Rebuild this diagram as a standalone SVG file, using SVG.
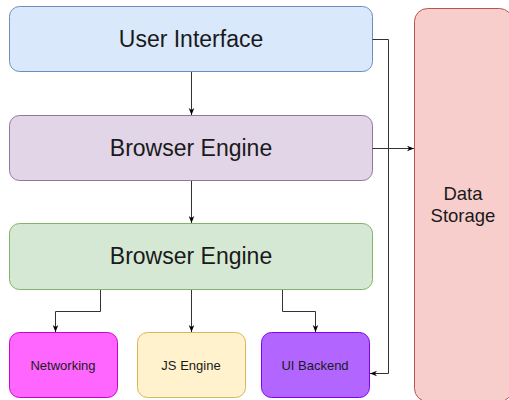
<svg xmlns="http://www.w3.org/2000/svg" width="509" height="400" viewBox="0 0 509 400">
<defs>
<style>
.lbl{font-family:"Liberation Sans",Arial,sans-serif;fill:#1a1a1a;text-anchor:middle;dominant-baseline:central}
.big{font-size:23px}
.sm{font-size:13px}
.mid{font-size:18.5px}
.conn{fill:none;stroke:#333;stroke-width:1}
</style>
<marker id="arr" viewBox="0 0 10 10" refX="10" refY="5" markerWidth="7" markerHeight="7" markerUnits="userSpaceOnUse" orient="auto">
<path d="M0,1 L10,5 L0,9 L3,5 Z" fill="#000"/>
</marker>
</defs>
<rect width="509" height="400" fill="#fff"/>
<g id="data-storage">
<rect x="414.5" y="8.5" width="98" height="393" rx="13" fill="#f8cecc" stroke="#b85450"/>
<text class="lbl mid" x="463" y="193">Data</text>
<text class="lbl mid" x="463" y="215">Storage</text>
</g>
<g id="user-interface">
<rect x="9.5" y="6.5" width="363" height="65" rx="10" fill="#dae8fc" stroke="#6c8ebf"/>
<text class="lbl big" x="191" y="39">User Interface</text>
</g>
<g id="browser-engine-1">
<rect x="9.5" y="115.5" width="363" height="65" rx="10" fill="#e1d5e7" stroke="#9673a6"/>
<text class="lbl big" x="191" y="148">Browser Engine</text>
</g>
<g id="browser-engine-2">
<rect x="9.5" y="223.5" width="363" height="66" rx="10" fill="#d5e8d4" stroke="#82b366"/>
<text class="lbl big" x="191" y="256">Browser Engine</text>
</g>
<g id="networking">
<rect x="9.5" y="332.5" width="108" height="65" rx="10" fill="#ff66ff" stroke="#cc00cc"/>
<text class="lbl sm" x="63" y="365">Networking</text>
</g>
<g id="js-engine">
<rect x="137.5" y="332.5" width="108" height="65" rx="10" fill="#fff2cc" stroke="#d6b656"/>
<text class="lbl sm" x="191" y="365">JS Engine</text>
</g>
<g id="ui-backend">
<rect x="261.5" y="332.5" width="108" height="65" rx="10" fill="#b266ff" stroke="#7f00ff"/>
<text class="lbl sm" x="315" y="365">UI Backend</text>
</g>
<g id="connectors">
<path class="conn" d="M191.5,72 V115" marker-end="url(#arr)"/>
<path class="conn" d="M191.5,181 V223" marker-end="url(#arr)"/>
<path class="conn" d="M372.5,39.5 H388.5 V373.5 H370" marker-end="url(#arr)"/>
<path class="conn" d="M372.5,148.5 H414" marker-end="url(#arr)"/>
<path class="conn" d="M100.5,290 V311.5 H55.5 V332" marker-end="url(#arr)"/>
<path class="conn" d="M191.5,290 V332" marker-end="url(#arr)"/>
<path class="conn" d="M282.5,290 V311.5 H315.5 V332" marker-end="url(#arr)"/>
</g>
</svg>
